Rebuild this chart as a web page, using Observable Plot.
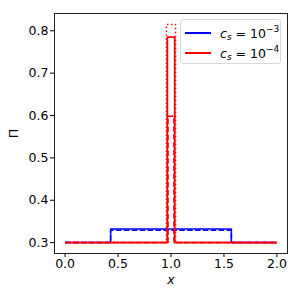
<!DOCTYPE html>
<html><head><meta charset="utf-8">
<script src="https://cdn.jsdelivr.net/npm/d3@7"></script>
<script src="https://cdn.jsdelivr.net/npm/@observablehq/plot@0.6"></script>
<style>
body{margin:0;background:#fff;font-family:"DejaVu Sans",sans-serif;}
#wrap{position:relative;width:300px;height:300px;}
[aria-label="x-axis label"] text{font-style:italic;}
[aria-label="x-axis label"]{font-style:italic;}
#legend{position:absolute;left:180px;top:19px;width:99px;height:43px;border:1px solid #d9d9d9;border-radius:3px;background:rgba(255,255,255,0.8);font-family:"DejaVu Sans",sans-serif;font-size:12.5px;color:#000;}
.row{position:absolute;left:4px;height:16px;display:flex;align-items:center;white-space:nowrap;}
.sw{width:26px;height:1.5px;margin-right:9px;}
.m i{font-style:italic;}
sub,sup{font-size:9px;}
sub{vertical-align:-2px;}
sup{vertical-align:6px;}
</style></head>
<body><div id="wrap"><div id="legend"></div></div>
<script>
// step breakpoints (step-after curve)
const blueSolidX = [0, 0.43, 1.57, 2.0];
const blueSolidY = [0.3, 0.332, 0.3, 0.3];
const blueDashX = [0, 0.43, 1.57, 2.0];
const blueDashY = [0.3, 0.329, 0.3, 0.3];
const redSolidX = [0, 0.965, 1.035, 2.0];
const redSolidY = [0.3, 0.785, 0.3, 0.3];
const redDotX = [0, 0.957, 1.043, 2.0];
const redDotY = [0.3, 0.815, 0.3, 0.3];
const redDashX = [0, 0.972, 1.028, 2.0];
const redDashY = [0.3, 0.598, 0.3, 0.3];
const xTicks = [0, 0.5, 1.0, 1.5, 2.0];
const yTicks = [0.3, 0.4, 0.5, 0.6, 0.7, 0.8];
const legendColors = ["#0000ff", "#ff0000"];
const legendExps = ["−3", "−4"];

const mk = (xs, ys) => xs.map((x, i) => ({x, y: ys[i]}));
const line = (xs, ys, color, dash, w = 1.5) => Plot.line(mk(xs, ys), {x: "x", y: "y", curve: "step-after", stroke: color, strokeWidth: w, strokeDasharray: dash, strokeLinecap: "butt"});

const chart = Plot.plot({
  width: 300, height: 300,
  marginLeft: 54, marginRight: 13, marginTop: 13, marginBottom: 47,
  style: {fontFamily: "DejaVu Sans, sans-serif", fontSize: "12.5px", color: "black", background: "white"},
  x: {domain: [-0.1, 2.1]},
  y: {domain: [0.2743, 0.8408]},
  marks: [
    Plot.axisX({ticks: xTicks, tickFormat: d3.format(".1f"), tickSize: 4, tickPadding: 2, fontSize: 12.5, label: "x", labelAnchor: "center", labelArrow: "none", labelOffset: 30}),
    Plot.axisY({ticks: yTicks, tickFormat: d3.format(".1f"), tickSize: 4, tickPadding: 2, fontSize: 12.5, label: "Π", labelAnchor: "center", labelArrow: "none", labelOffset: 45}),
    line(blueDashX, blueDashY, "#0000ff", "5.5,2.4"),
    line(blueSolidX, blueSolidY, "#0000ff", null),
    line(redDashX, redDashY, "#ff0000", "5.5,2.4"),
    line(redDotX, redDotY, "#ff0000", "1.5,2.5"),
    line(redSolidX, redSolidY, "#ff0000", null, 1.8),
    Plot.frame({stroke: "#222", strokeWidth: 1})
  ]
});
document.getElementById("wrap").prepend(chart);

const leg = document.getElementById("legend");
legendExps.forEach((e, i) => {
  const r = document.createElement("div");
  r.className = "row";
  r.style.top = (5 + i * 20) + "px";
  r.innerHTML = `<div class="sw" style="background:${legendColors[i]}"></div><span class="m"><i>c</i><sub><i>s</i></sub> = 10<sup>${e}</sup></span>`;
  leg.appendChild(r);
});
</script></body></html>
